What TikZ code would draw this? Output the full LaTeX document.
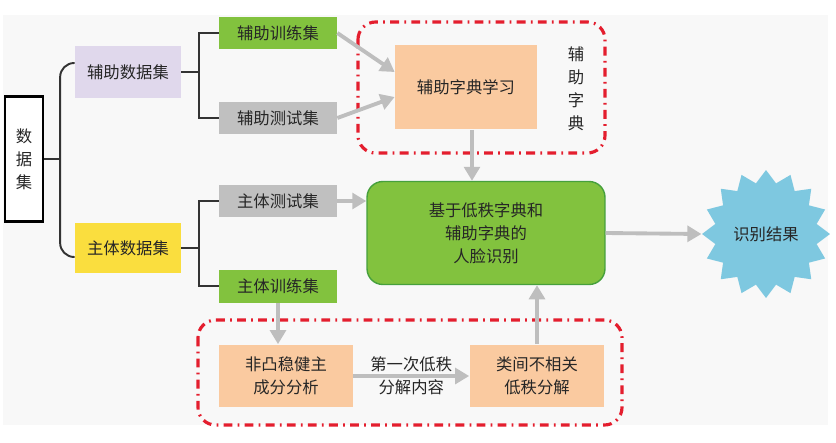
\documentclass[tikz,border=0pt]{standalone}
\usepackage{fontspec}
\setmainfont{Noto Sans CJK SC}
\usetikzlibrary{arrows.meta, positioning, shapes.geometric}
\definecolor{boxgreen}{RGB}{130, 194, 62}
\definecolor{edgegreen}{RGB}{70, 160, 60}
\definecolor{boxgray}{RGB}{192, 192, 192}
\definecolor{boxpeach}{RGB}{250, 202, 160}
\definecolor{boxlilac}{RGB}{224, 216, 236}
\definecolor{boxyellow}{RGB}{250, 222, 62}
\definecolor{starblue}{RGB}{126, 200, 224}
\definecolor{dictred}{RGB}{228, 30, 46}
\definecolor{arrgray}{RGB}{190, 190, 190}
\definecolor{bggray}{RGB}{248, 248, 248}

\begin{document}
\begin{tikzpicture}[
    x=0.02cm, y=-0.02cm,
    every node/.style={font=\fontsize{9.3}{13}\selectfont, text=black!85},
    block/.style={rectangle, fill=#1, inner sep=0pt, align=center},
    subset/.style={block=#1, minimum width=2.36cm, minimum height=0.66cm},
    bracket/.style={line width=1.1pt, black!80},
    arr/.style={-{Triangle[length=8pt, width=9pt]}, line width=2.2pt, arrgray},
    group/.style={dictred, line width=1.8pt, rounded corners=10pt, dash pattern=on 5pt off 3pt on 1pt off 3pt}
]

% background
\useasboundingbox (0,0) rectangle (836,443);
\fill[bggray] (3,15) rectangle (828,425);

% data sets
\node[block=white, draw=black, line width=1.3pt, minimum width=0.76cm, minimum height=2.5cm] (data) at (24,159) {数\\据\\集};
\node[block=boxlilac, minimum width=2.12cm, minimum height=1.06cm] (auxset) at (128,72) {辅助数据集};
\node[block=boxyellow, minimum width=2.12cm, minimum height=1.02cm] (mainset) at (128,248) {主体数据集};

\node[subset=boxgreen] (auxtrain) at (278,33) {辅助训练集};
\node[subset=boxgray] (auxtest) at (278,118) {辅助测试集};
\node[subset=boxgray] (maintest) at (278,201) {主体测试集};
\node[subset=boxgreen] (maintrain) at (278,286) {主体训练集};

% brackets
\coordinate (datajoin) at ([xshift=0.32cm]data.east);
\coordinate (auxjoin) at ([xshift=0.36cm]auxset.east);
\coordinate (mainjoin) at ([xshift=0.36cm]mainset.east);
\draw[bracket] (data.east) -- (datajoin);
\draw[bracket, rounded corners=8pt] ([yshift=0.18cm]auxset.west) -| (datajoin) |- ([yshift=-0.18cm]mainset.west);
\draw[bracket] (auxset.east) -- (auxjoin);
\draw[bracket] (auxtrain.west) -| (auxjoin) |- (auxtest.west);
\draw[bracket] (mainset.east) -- (mainjoin);
\draw[bracket] (maintest.west) -| (mainjoin) |- (maintrain.west);

% auxiliary dictionary
\draw[group] (358,22) rectangle (605,153);
\node[block=boxpeach, minimum width=2.84cm, minimum height=1.7cm] (auxdict) at (466,87) {辅助字典学习};
\node[align=center] (dictlabel) at (576,89) {辅\\助\\字\\典};

% recognition
\node[block=boxgreen, draw=edgegreen, line width=0.8pt, rounded corners=9pt, minimum width=4.76cm, minimum height=2.06cm] (recog) at (486,233) {基于低秩字典和\\辅助字典的\\人脸识别};
\node[star, star points=16, star point ratio=1.24, fill=starblue, inner sep=0pt, minimum size=2.56cm] (result) at (766,234) {识别结果};

% low-rank decomposition
\draw[group] (198,320) rectangle (622,425);
\node[block=boxpeach, minimum width=2.68cm, minimum height=1.26cm] (nrpca) at (286,376) {非凸稳健主\\成分分析};
\node[block=boxpeach, minimum width=2.7cm, minimum height=1.26cm] (lowrank) at (537,376) {类间不相关\\低秩分解};

% arrows
\draw[arr] (auxtrain.east) -- ([yshift=0.3cm]auxdict.west);
\draw[arr] (auxtest.east) -- ([yshift=-0.2cm]auxdict.west);
\draw[arr] ([xshift=0.12cm]auxdict.south) -- ([xshift=0.12cm]auxdict.south |- recog.north);
\draw[arr] (maintest.east) -- (maintest.east -| recog.west);
\draw[arr] (recog.east) -- (result.west);
\draw[arr] (maintrain.south) -- (maintrain.south |- nrpca.north);
\draw[arr] (nrpca.east) -- node[align=center] {第一次低秩\\分解内容} (lowrank.west);
\draw[arr] (lowrank.north) -- (lowrank.north |- recog.south);

\end{tikzpicture}
\end{document}
